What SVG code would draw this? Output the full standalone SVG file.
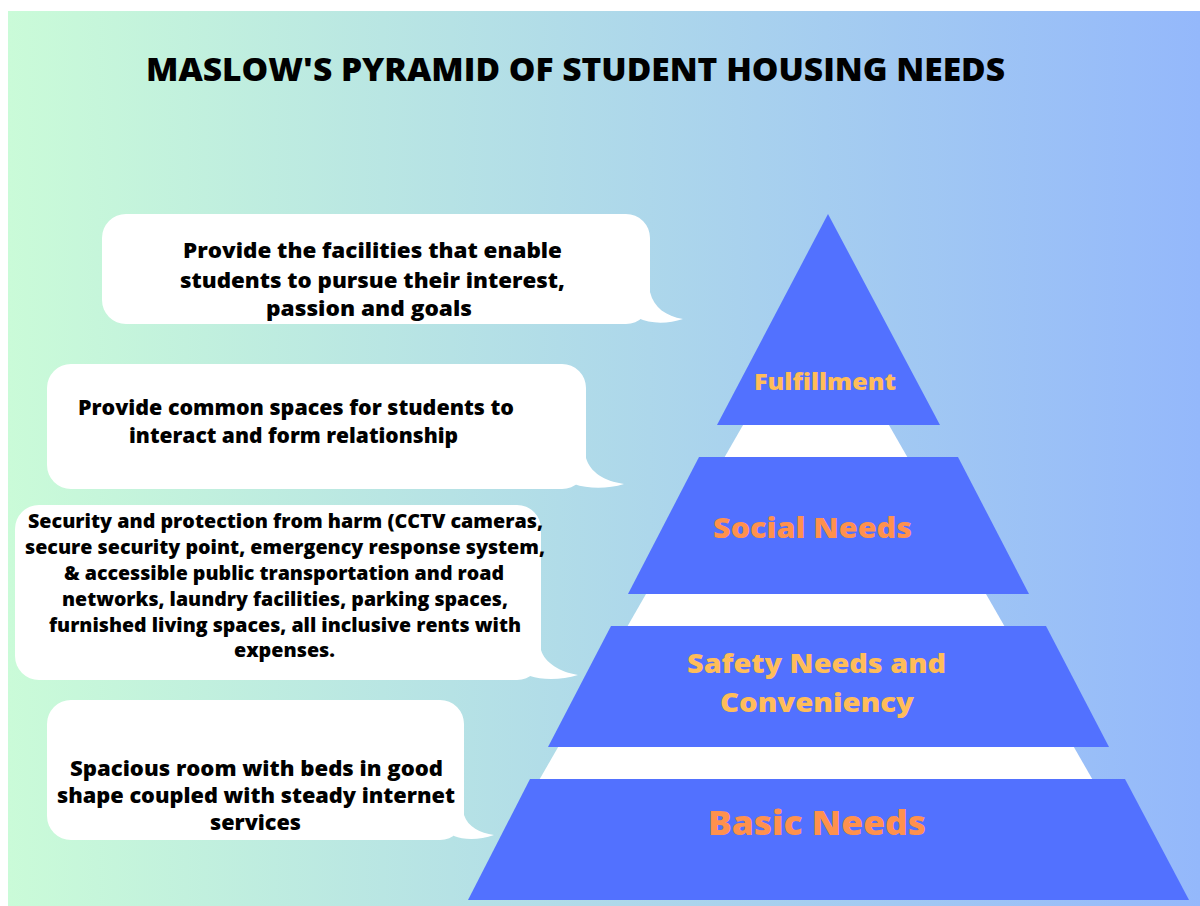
<svg xmlns="http://www.w3.org/2000/svg" width="1200" height="906" viewBox="0 0 1200 906">
  <defs>
    <linearGradient id="bg" x1="0" y1="0" x2="1" y2="0">
      <stop offset="0" stop-color="#CAFBD8"/>
      <stop offset="1" stop-color="#94B8FB"/>
    </linearGradient>
    <style>
      text { font-family: "Open Sans", "Liberation Sans", sans-serif; font-weight: 800; }
      .title { font-size: 31px; fill: #000; }
      .note { font-size: 21px; fill: #000; text-anchor: middle; }
      .note-sm { font-size: 18.5px; fill: #000; text-anchor: middle; }
      .bubble { fill: #FFFFFF; }
      .tier { fill: #5271FF; }
      .lbl { text-anchor: middle; }
      .gold { fill: #FFBD59; }
      .orange { fill: #FF914D; }
    </style>
  </defs>

  <!-- page -->
  <rect x="0" y="0" width="1200" height="906" fill="#FFFFFF"/>
  <rect x="8" y="11" width="1192" height="895" fill="url(#bg)"/>

  <text class="title" x="146" y="80.5" textLength="859" lengthAdjust="spacingAndGlyphs">MASLOW'S PYRAMID OF STUDENT HOUSING NEEDS</text>

  <!-- white core visible between the tiers -->
  <polygon id="pyramid-core" points="816,298 1133,850 499,850" fill="#FFFFFF"/>

  <!-- pyramid tiers -->
  <g id="tier-fulfillment">
    <polygon class="tier" points="828,214 940,425 717,425"/>
    <text class="lbl gold" x="825" y="390" font-size="23" textLength="142" lengthAdjust="spacingAndGlyphs">Fulfillment</text>
  </g>
  <g id="tier-social">
    <polygon class="tier" points="699,457 958,457 1029,594 628,594"/>
    <text class="lbl orange" x="812.5" y="538" font-size="29" textLength="199" lengthAdjust="spacingAndGlyphs">Social Needs</text>
  </g>
  <g id="tier-safety">
    <polygon class="tier" points="611,626 1046,626 1109,747 548,747"/>
    <text class="lbl gold" x="816.5" y="673" font-size="27" textLength="259" lengthAdjust="spacingAndGlyphs">Safety Needs and</text>
    <text class="lbl gold" x="817" y="712" font-size="27" textLength="194" lengthAdjust="spacingAndGlyphs">Conveniency</text>
  </g>
  <g id="tier-basic">
    <polygon class="tier" points="530,779 1125,779 1189,900 468,900"/>
    <text class="lbl orange" x="817" y="835" font-size="33" textLength="218" lengthAdjust="spacingAndGlyphs">Basic Needs</text>
  </g>

  <!-- speech bubbles -->
  <g id="note-fulfillment">
    <rect class="bubble" x="102" y="214" width="548" height="110" rx="24"/>
    <path class="bubble" d="M650,292 C654,308 666,316 683,319 C668,324 650,324 638,318 L638,292 Z"/>
    <text class="note" x="372.5" y="258" textLength="379" lengthAdjust="spacingAndGlyphs">Provide the facilities that enable</text>
    <text class="note" x="372.5" y="288" textLength="385" lengthAdjust="spacingAndGlyphs">students to pursue their interest,</text>
    <text class="note" x="369" y="316" textLength="206" lengthAdjust="spacingAndGlyphs">passion and goals</text>
  </g>

  <g id="note-social">
    <rect class="bubble" x="47" y="364" width="539" height="125" rx="24"/>
    <path class="bubble" d="M586,458 C590,472 604,481 624,484 C608,489 588,489 574,484 L574,458 Z"/>
    <text class="note" x="296" y="415" textLength="436" lengthAdjust="spacingAndGlyphs">Provide common spaces for students to</text>
    <text class="note" x="293.5" y="443" textLength="329" lengthAdjust="spacingAndGlyphs">interact and form relationship</text>
  </g>

  <g id="note-safety">
    <rect class="bubble" x="15" y="505" width="526" height="175" rx="24"/>
    <path class="bubble" d="M541,650 C545,663 560,672 578,675 C562,680 542,680 530,676 L530,650 Z"/>
    <text class="note-sm" x="285.5" y="528" textLength="515" lengthAdjust="spacingAndGlyphs">Security and protection from harm (CCTV cameras,</text>
    <text class="note-sm" x="285" y="554" textLength="520" lengthAdjust="spacingAndGlyphs">secure security point, emergency response system,</text>
    <text class="note-sm" x="284" y="580" textLength="440" lengthAdjust="spacingAndGlyphs">&amp; accessible public transportation and road</text>
    <text class="note-sm" x="285" y="606" textLength="446" lengthAdjust="spacingAndGlyphs">networks, laundry facilities, parking spaces,</text>
    <text class="note-sm" x="285" y="632" textLength="472" lengthAdjust="spacingAndGlyphs">furnished living spaces, all inclusive rents with</text>
    <text class="note-sm" x="284.5" y="657" textLength="101" lengthAdjust="spacingAndGlyphs">expenses.</text>
  </g>

  <g id="note-basic">
    <rect class="bubble" x="47" y="700" width="417" height="140" rx="24"/>
    <path class="bubble" d="M464,815 C468,827 480,833 494,835 C480,840 464,840 454,836 L454,815 Z"/>
    <text class="note" x="256.5" y="776" textLength="373" lengthAdjust="spacingAndGlyphs">Spacious room with beds in good</text>
    <text class="note" x="256" y="803" textLength="398" lengthAdjust="spacingAndGlyphs">shape coupled with steady internet</text>
    <text class="note" x="255.5" y="830" textLength="91" lengthAdjust="spacingAndGlyphs">services</text>
  </g>

  <!-- no connectors: bubble tails are part of each note -->
  <g id="connectors"/>
</svg>
